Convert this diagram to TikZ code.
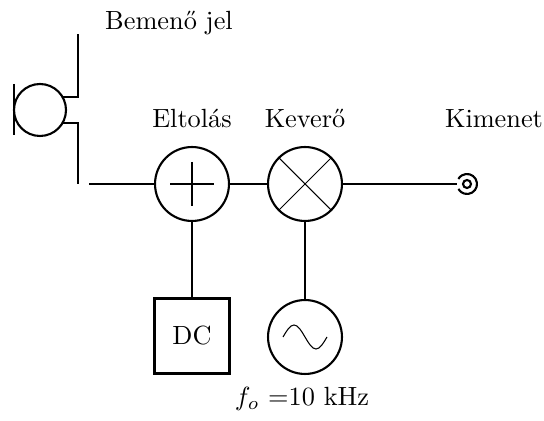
\documentclass[tikz,border=0pt]{standalone}
\usepackage{amsmath}
\usepackage{tikz}
\usetikzlibrary{calc}

\tikzset{
  block/.style={draw,line width=0.8pt,inner sep=0pt},
  roundblock/.style={block,circle,minimum size=28.1pt},
  squareblock/.style={block,rectangle,minimum size=28.5pt},
  wire/.style={line width=0.4pt},
}

\begin{document}
\begin{tikzpicture}[x=0.38pt,y=-0.38pt]
\useasboundingbox (0,0) rectangle (544,421);

% microphone
\draw[line width=0.8pt] (40,110) circle[radius=26];
\draw[line width=0.8pt] (14,84) -- (14,135);
\coordinate (micup) at (62.5,97);
\coordinate (micdn) at (62.5,123);
\draw[wire] (micup) -- (78,97) -- (78,34);
\draw[wire] (micdn) -- (78,123) -- (78,184);
\coordinate (in) at (89,184);

% blocks
\node[roundblock] (sum) at (192,184) {};
\node[roundblock] (mix) at (305,184) {};
\node[squareblock] (dc) at (192,336) {DC};
\node[roundblock] (osc) at (305,337) {};
\coordinate (out) at (467,184);
\coordinate (outw) at (457,184);

\draw[line width=0.8pt] ($(sum.center)+(-22,0)$) -- ($(sum.center)+(22,0)$);
\draw[line width=0.8pt] ($(sum.center)+(0,-22)$) -- ($(sum.center)+(0,22)$);
\draw[wire] (mix.north west) -- (mix.south east);
\draw[wire] (mix.north east) -- (mix.south west);
\draw[wire] ($(osc.center)+(-22,0)$) sin ++(11,-12) cos ++(11,12) sin ++(11,12) cos ++(11,-12);

% output terminal
\draw[line width=0.8pt] (out) circle[radius=4];
\draw[line width=0.8pt] ($(out)+(150:10)$) arc[start angle=150,end angle=-150,radius=10];

% wires
\draw[wire] (in) -- (sum);
\draw[wire] (sum) -- (mix);
\draw[wire] (mix) -- (outw);
\draw[wire] (sum) -- (dc);
\draw[wire] (mix) -- (osc);

% labels
\node[anchor=base] (inlabel) at (169,29.5) {Bemenő jel};
\node[anchor=base] (sumlabel) at (192,128) {Eltolás};
\node[anchor=base] (mixlabel) at (305,128) {Keverő};
\node[anchor=base] (outlabel) at (494,128) {Kimenet};
\node[anchor=base] (osclabel) at (302,406) {$f_o$ =10 kHz};
\end{tikzpicture}
\end{document}
